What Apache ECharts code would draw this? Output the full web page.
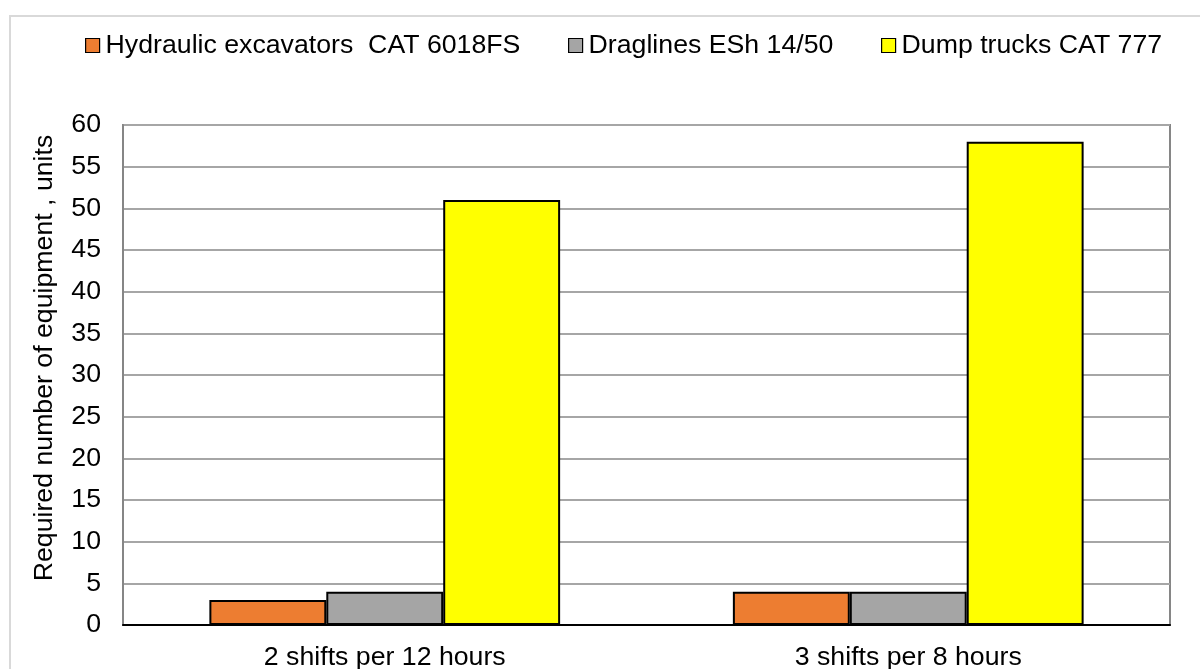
<!DOCTYPE html>
<html>
<head>
<meta charset="utf-8">
<script src="https://cdn.jsdelivr.net/npm/echarts@6/dist/echarts.min.js"></script>
<style>
  html, body { margin: 0; padding: 0; background: #fff; }
  #chart { width: 1200px; height: 669px; }
</style>
</head>
<body>
<div id="chart"></div>
<script>
// Shift schedules compared
const categories = ['2 shifts per 12 hours', '3 shifts per 8 hours'];

// Required number of units per equipment type
const excavators = [3, 4];
const draglines = [4, 4];
const dumpTrucks = [51, 58];

const seriesNames = ['Hydraulic excavators  CAT 6018FS', 'Draglines ESh 14/50', 'Dump trucks CAT 777'];
const seriesColors = ['#ed7d31', '#a5a5a5', '#ffff00'];
const seriesData = [excavators, draglines, dumpTrucks];

const yTicks = { min: 0, max: 60, interval: 5 };
const yTitle = 'Required number of equipment , units';

const FONT = '"Liberation Sans", Arial, sans-serif';
const FONT_SIZE = 26.7;
const legendLeft = [85, 568, 881];

const chart = echarts.init(document.getElementById('chart'), null, { renderer: 'canvas' });

chart.setOption({
  backgroundColor: '#fff',
  animation: false,
  textStyle: { fontFamily: FONT },
  legend: seriesNames.map((name, i) => ({
    data: [name],
    left: legendLeft[i],
    top: 32,
    padding: 0,
    icon: 'rect',
    itemWidth: 14,
    itemHeight: 14,
    itemGap: 0,
    selectedMode: false,
    itemStyle: { borderColor: '#000', borderWidth: 1.2 },
    textStyle: { fontFamily: FONT, fontSize: FONT_SIZE, color: '#000', padding: [0, 0, 0, 1] }
  })),
  grid: {
    left: 123,
    right: 30,
    top: 125,
    bottom: 44,
    show: true,
    borderColor: '#868686',
    borderWidth: 2,
    containLabel: false,
    outerBoundsMode: 'none'
  },
  xAxis: {
    type: 'category',
    data: categories,
    axisLine: { lineStyle: { color: '#000', width: 2 } },
    axisTick: { show: false },
    axisLabel: { fontFamily: FONT, fontSize: FONT_SIZE, color: '#000', margin: 19 }
  },
  yAxis: {
    type: 'value',
    min: yTicks.min,
    max: yTicks.max,
    interval: yTicks.interval,
    axisLine: { show: true, lineStyle: { color: '#868686', width: 2 } },
    axisTick: { show: false },
    splitLine: { lineStyle: { color: '#a6a6a6', width: 2 } },
    axisLabel: { fontFamily: FONT, fontSize: FONT_SIZE, color: '#000', margin: 22 }
  },
  graphic: [
    {
      type: 'rect',
      silent: true,
      shape: { x: 10, y: 16, width: 1220, height: 700 },
      style: { fill: 'none', stroke: '#d9d9d9', lineWidth: 2 },
      z: -1
    },
    {
      type: 'text',
      silent: true,
      x: 45,
      y: 358,
      rotation: Math.PI / 2,
      style: {
        text: yTitle,
        fontFamily: FONT,
        fontSize: FONT_SIZE,
        fill: '#000',
        align: 'center',
        verticalAlign: 'middle'
      }
    }
  ],
  series: seriesNames.map((name, i) => ({
    name: name,
    type: 'bar',
    data: seriesData[i],
    barGap: '0%',
    barCategoryGap: '33%',
    itemStyle: { color: seriesColors[i], borderColor: '#000', borderWidth: 2 }
  }))
});
</script>
</body>
</html>
